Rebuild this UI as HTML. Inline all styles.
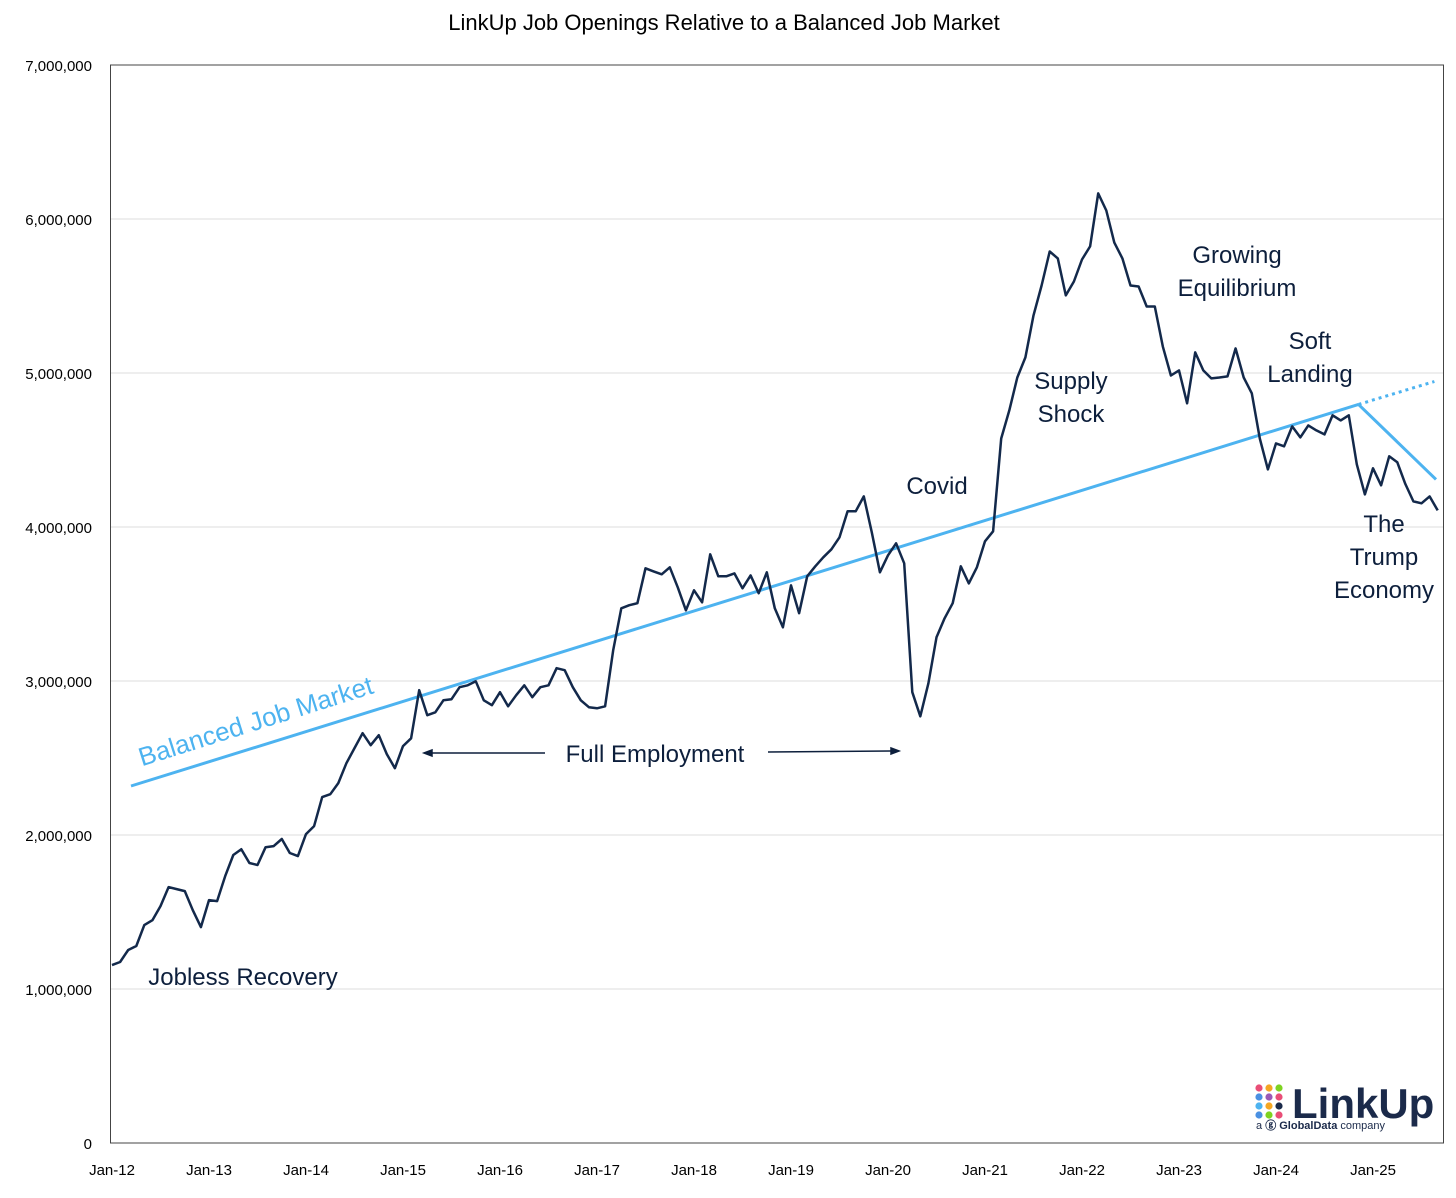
<!DOCTYPE html>
<html><head><meta charset="utf-8"><style>
html,body{margin:0;padding:0;background:#fff;}
body{width:1456px;height:1193px;overflow:hidden;font-family:"Liberation Sans",Calibri,sans-serif;}
</style></head><body>
<svg id="chart" width="1456" height="1193" xmlns="http://www.w3.org/2000/svg" font-family="Liberation Sans, sans-serif">
<text x="724" y="30" text-anchor="middle" font-size="22" fill="#000">LinkUp Job Openings Relative to a Balanced Job Market</text>
<g id="grid"></g>
<rect x="110.5" y="65" width="1333" height="1078" fill="none" stroke="#444" stroke-width="1"/>
<g id="yt"></g><g id="xt"></g>
<g id="series"></g>
<g fill="#0d1f3c" font-size="24" text-anchor="middle">
<text x="256" y="730" fill="#4db3f0" font-size="26" transform="rotate(-17.5 256 722)">Balanced Job Market</text>
<text x="243" y="985">Jobless Recovery</text>
<text x="655" y="762">Full Employment</text>
<text x="937" y="494">Covid</text>
<text x="1071" y="389">Supply</text>
<text x="1071" y="422">Shock</text>
<text x="1237" y="263">Growing</text>
<text x="1237" y="296">Equilibrium</text>
<text x="1310" y="349">Soft</text>
<text x="1310" y="382">Landing</text>
<text x="1384" y="532">The</text>
<text x="1384" y="565">Trump</text>
<text x="1384" y="598">Economy</text>
</g>
<g stroke="#0d1f3c" stroke-width="1.5" fill="#0d1f3c">
<line x1="430" y1="753" x2="545" y2="753"/><path d="M424 753 L432 750 L432 756Z"/>
<line x1="768" y1="752" x2="893" y2="751"/><path d="M899 751 L891 748 L891 754Z"/>
</g>
<g>
<g id="dots"></g>
<text x="1292" y="1118" font-size="42" font-weight="bold" fill="#1b2a4a">LinkUp</text>
<text x="1256" y="1129" font-size="11" fill="#1b2a4a">a <tspan font-weight="bold">ⓖ GlobalData</tspan> company</text>
</g>
</svg>
<script>
const yTicks=[0,1000000,2000000,3000000,4000000,5000000,6000000,7000000];
const xLabels=["Jan-12","Jan-13","Jan-14","Jan-15","Jan-16","Jan-17","Jan-18","Jan-19","Jan-20","Jan-21","Jan-22","Jan-23","Jan-24","Jan-25"];
const openings=[1155,1175,1253,1279,1415,1447,1538,1662,1649,1636,1512,1402,1577,1571,1733,1870,1908,1818,1805,1921,1928,1974,1883,1863,2006,2058,2246,2265,2337,2466,2564,2661,2583,2648,2525,2434,2577,2628,2940,2778,2797,2875,2882,2960,2972,2998,2875,2843,2927,2836,2908,2972,2895,2960,2972,3083,3070,2960,2875,2830,2823,2836,3200,3472,3492,3505,3732,3712,3693,3738,3608,3459,3589,3511,3823,3680,3680,3699,3602,3686,3570,3706,3472,3349,3621,3440,3680,3745,3803,3855,3933,4102,4102,4199,3965,3706,3816,3894,3764,2927,2771,2985,3284,3407,3505,3745,3634,3738,3907,3972,4575,4757,4971,5101,5374,5568,5789,5744,5504,5594,5737,5822,6166,6055,5847,5744,5568,5562,5432,5432,5173,4984,5017,4803,5134,5017,4965,4971,4978,5160,4971,4868,4575,4374,4543,4524,4653,4582,4660,4627,4601,4725,4692,4725,4407,4212,4381,4271,4459,4420,4280,4166,4154,4199,4108];
const balancedMonths=[2.35,154.2];
const balancedValues=[2318,4796];
const trendMonths=[154.2,163.6];
const trendValues=[4796,4945];
const trumpMonths=[154.2,163.8];
const trumpValues=[4796,4309];

const NS="http://www.w3.org/2000/svg";
const X=m=>112+m*97/12;
const Y=v=>1143-v/7000000*1078;
const Yk=v=>Y(v*1000);
function mk(t,a,p){const e=document.createElementNS(NS,t);for(const k in a)e.setAttribute(k,a[k]);p.appendChild(e);return e;}
const grid=document.getElementById('grid'),yt=document.getElementById('yt'),xt=document.getElementById('xt'),ser=document.getElementById('series');
yTicks.forEach(v=>{
 if(v>0&&v<7000000){const g=mk('line',{x1:111,x2:1443,y1:Y(v),y2:Y(v),stroke:'#dcdcdc','stroke-width':1},grid);
 
 }
 const t=mk('text',{x:92,y:Y(v)+6,'text-anchor':'end','font-size':15,fill:'#000'},yt);
 
 
 t.textContent=v===0?'0':v.toLocaleString('en-US');
});
xLabels.forEach((l,i)=>{
 const t=mk('text',{x:X(i*12),y:1175,'text-anchor':'middle','font-size':15,fill:'#000'},xt);
 
 
 t.textContent=l;
});
function line(ms,vs,attrs){return ms.map((m,i)=>X(m).toFixed(1)+','+Yk(vs[i]).toFixed(1)).join(' ');}
const b=mk('polyline',{points:line(balancedMonths,balancedValues),fill:'none',stroke:'#4db3f0','stroke-width':3},ser);


const d=mk('polyline',{points:line(trendMonths,trendValues),fill:'none',stroke:'#4db3f0','stroke-width':3,'stroke-dasharray':'3 4'},ser);


const tr=mk('polyline',{points:line(trumpMonths,trumpValues),fill:'none',stroke:'#4db3f0','stroke-width':3},ser);


const o=mk('polyline',{points:line(openings.map((_,i)=>i),openings),fill:'none',stroke:'#13294b','stroke-width':2.5,'stroke-linejoin':'round'},ser);


const cols=['#e94e77','#f5a623','#7ed321','#4a90e2','#9b59b6','#e94e77','#4db3f0','#f5a623','#1b2a4a','#4a90e2','#7ed321','#e94e77'];
const dots=document.getElementById('dots');
for(let r=0;r<4;r++)for(let c=0;c<3;c++){
 const e=mk('circle',{cx:1259+c*10,cy:1088+r*9,r:3.6,fill:cols[r*3+c]},dots);
 
 
}
</script>
</body></html>
